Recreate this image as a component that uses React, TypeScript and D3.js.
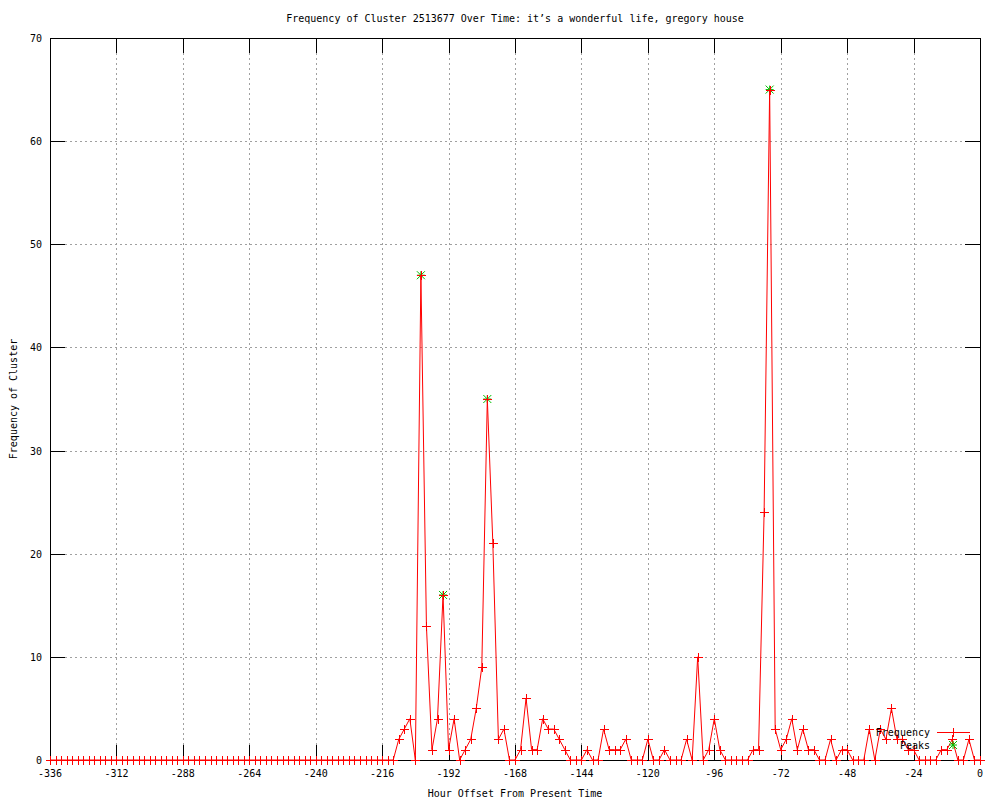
import React from "react";
import * as d3 from "d3";

const title = "Frequency of Cluster 2513677 Over Time: it\u2019s a wonderful life, gregory house";
const xLabel = "Hour Offset From Present Time";
const yLabel = "Frequency of Cluster";

// hour offsets sampled every 2 hours from -336 to 0
const hours: number[] = d3.range(-336, 1, 2);

const frequency: number[] = [
  // -336 .. -212
  0, 0, 0, 0, 0, 0, 0, 0, 0, 0, 0, 0,
  0, 0, 0, 0, 0, 0, 0, 0, 0, 0, 0, 0,
  0, 0, 0, 0, 0, 0, 0, 0, 0, 0, 0, 0,
  0, 0, 0, 0, 0, 0, 0, 0, 0, 0, 0, 0,
  0, 0, 0, 0, 0, 0, 0, 0, 0, 0, 0, 0,
  0, 0, 0,
  // -210 .. -188
  2, 3, 4, 0, 47, 13, 1, 4, 16, 1, 4, 0,
  // -186 .. -164
  1, 2, 5, 9, 35, 21, 2, 3, 0, 0, 1, 6,
  // -162 .. -140
  1, 1, 4, 3, 3, 2, 1, 0, 0, 0, 1, 0,
  // -138 .. -116
  0, 3, 1, 1, 1, 2, 0, 0, 0, 2, 0, 0,
  // -114 .. -92
  1, 0, 0, 0, 2, 0, 10, 0, 1, 4, 1, 0,
  // -90 .. -68
  0, 0, 0, 0, 1, 1, 24, 65, 3, 1, 2, 4,
  // -66 .. -44
  1, 3, 1, 1, 0, 0, 2, 0, 1, 1, 0, 0,
  // -42 .. -20
  0, 3, 0, 3, 2, 5, 2, 2, 1, 1, 0, 0,
  // -18 .. 0
  0, 0, 1, 1, 2, 0, 0, 2, 0, 0,
];

const peakHours: number[] = [-202, -194, -178, -76];
const peakValues: number[] = [47, 16, 35, 65];

const xTicks: number[] = [-336, -312, -288, -264, -240, -216, -192, -168, -144, -120, -96, -72, -48, -24, 0];
const yTicks: number[] = [0, 10, 20, 30, 40, 50, 60, 70];

const legendLabels = ["Frequency", "Peaks"];

const FONT = "'DejaVu Sans Mono', monospace";
const RED = "#ff0000";
const GREEN = "#00c000";

function Plus({ x, y, color, s = 4 }: { x: number; y: number; color: string; s?: number }) {
  return (
    <g stroke={color} strokeWidth={1} shapeRendering="crispEdges">
      <line x1={x - s} x2={x + s + 1} y1={y + 0.5} y2={y + 0.5} />
      <line x1={x + 0.5} x2={x + 0.5} y1={y - s} y2={y + s + 1} />
    </g>
  );
}

function Star({ x, y, color, s = 4 }: { x: number; y: number; color: string; s?: number }) {
  return (
    <g stroke={color} strokeWidth={1}>
      <line x1={x - s} x2={x + s} y1={y} y2={y} />
      <line x1={x} x2={x} y1={y - s} y2={y + s} />
      <line x1={x - s} x2={x + s} y1={y - s} y2={y + s} />
      <line x1={x - s} x2={x + s} y1={y + s} y2={y - s} />
    </g>
  );
}

export default function App() {
  const W = 1000;
  const H = 800;
  const left = 50;
  const right = 980;
  const top = 38;
  const bottom = 760;

  const x = d3.scaleLinear().domain([-336, 0]).range([left, right]);
  const y = d3.scaleLinear().domain([0, 70]).range([bottom, top]);

  const pts = hours.map((h, i) => [h, frequency[i]] as [number, number]);
  const line = d3
    .line<[number, number]>()
    .x((d) => x(d[0]))
    .y((d) => y(d[1]));

  const tickLen = 15;

  return (
    <svg
      width={W}
      height={H}
      style={{ position: "absolute", left: 0, top: 0, background: "#fff" }}
      fontFamily={FONT}
      fontSize={10}
    >
      <rect x={0} y={0} width={W} height={H} fill="#fff" />
      {/* grid */}
      <g stroke="#a0a0a0" strokeWidth={1} strokeDasharray="2,3" shapeRendering="crispEdges">
        {xTicks
          .filter((t) => t !== -336 && t !== 0)
          .map((t) => (
            <line key={"gx" + t} x1={Math.round(x(t)) + 0.5} x2={Math.round(x(t)) + 0.5} y1={top} y2={bottom} />
          ))}
        {yTicks
          .filter((t) => t !== 0 && t !== 70)
          .map((t) => (
            <line key={"gy" + t} x1={left} x2={right} y1={Math.round(y(t)) + 0.5} y2={Math.round(y(t)) + 0.5} />
          ))}
      </g>
      {/* ticks */}
      <g stroke="#000" strokeWidth={1} shapeRendering="crispEdges">
        {xTicks.map((t) => {
          const px = Math.round(x(t)) + 0.5;
          return (
            <g key={"tx" + t}>
              <line x1={px} x2={px} y1={bottom} y2={bottom - tickLen} />
              <line x1={px} x2={px} y1={top} y2={top + tickLen} />
            </g>
          );
        })}
        {yTicks.map((t) => {
          const py = Math.round(y(t)) + 0.5;
          return (
            <g key={"ty" + t}>
              <line x1={left} x2={left + tickLen} y1={py} y2={py} />
              <line x1={right} x2={right - tickLen} y1={py} y2={py} />
            </g>
          );
        })}
      </g>
      {/* tick labels */}
      <g fill="#000">
        {xTicks.map((t) => (
          <text key={"lx" + t} x={x(t)} y={bottom + 17} textAnchor="middle">
            {t}
          </text>
        ))}
        {yTicks.map((t) => (
          <text key={"ly" + t} x={left - 8} y={y(t) + 4} textAnchor="end">
            {t}
          </text>
        ))}
      </g>
      {/* border */}
      <rect
        x={left + 0.5}
        y={top + 0.5}
        width={right - left}
        height={bottom - top}
        fill="none"
        stroke="#000"
        strokeWidth={1}
        shapeRendering="crispEdges"
      />
      {/* peaks */}
      {peakHours.map((h, i) => (
        <Star key={"pk" + h} x={x(h)} y={y(peakValues[i])} color={GREEN} />
      ))}
      {/* frequency line */}
      <path d={line(pts) || ""} fill="none" stroke={RED} strokeWidth={1} />
      {pts.map((d) => (
        <Plus key={"p" + d[0]} x={Math.round(x(d[0]))} y={Math.round(y(d[1]))} color={RED} />
      ))}
      {/* legend */}
      <g fill="#000">
        <text x={930} y={736} textAnchor="end">
          {legendLabels[0]}
        </text>
        <text x={930} y={749} textAnchor="end">
          {legendLabels[1]}
        </text>
      </g>
      <line x1={937} x2={970} y1={732.5} y2={732.5} stroke={RED} strokeWidth={1} shapeRendering="crispEdges" />
      <Plus x={953} y={732} color={RED} />
      <Star x={953} y={745} color={GREEN} />
      {/* titles */}
      <text x={(left + right) / 2} y={22} textAnchor="middle" fill="#000">
        {title}
      </text>
      <text x={(left + right) / 2} y={797} textAnchor="middle" fill="#000">
        {xLabel}
      </text>
      <text
        transform={`translate(17, ${(top + bottom) / 2}) rotate(-90)`}
        textAnchor="middle"
        fill="#000"
      >
        {yLabel}
      </text>
    </svg>
  );
}
